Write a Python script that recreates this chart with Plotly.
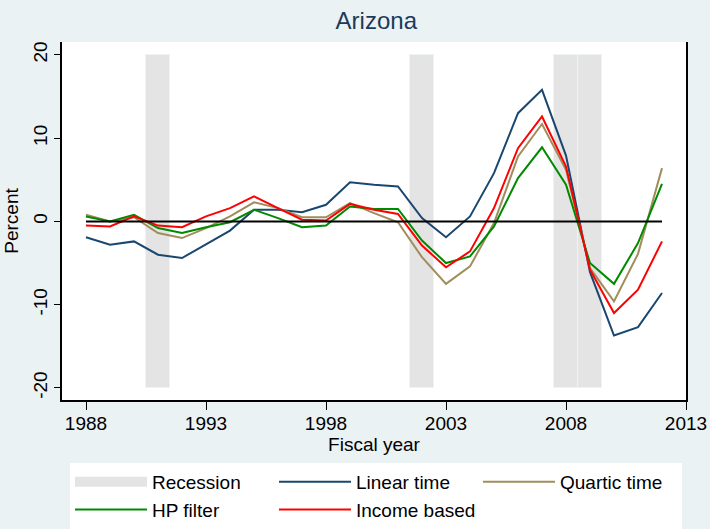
import plotly.graph_objects as go

years = list(range(1988, 2013))

linear_time = [-1.9, -2.8, -2.4, -4.0, -4.4, -2.8, -1.1, 1.4, 1.4, 1.1, 2.0, 4.7, 4.4,
               4.2, 0.4, -1.9, 0.6, 5.8, 13.0, 15.8, 7.9, -6.1, -13.7, -12.7, -8.6]
quartic_time = [0.8, 0.0, 0.5, -1.4, -2.0, -0.8, 0.6, 2.3, 1.6, 0.5, 0.5, 2.2, 1.0,
                -0.1, -4.3, -7.5, -5.4, -0.2, 7.8, 11.7, 6.2, -5.6, -9.6, -3.9, 6.4]
hp_filter = [0.6, 0.0, 0.8, -0.8, -1.4, -0.7, -0.1, 1.4, 0.4, -0.7, -0.5, 1.8, 1.5,
             1.5, -2.3, -5.0, -4.2, -0.6, 5.2, 8.9, 4.4, -5.0, -7.5, -2.6, 4.5]
income_based = [-0.5, -0.6, 0.6, -0.5, -0.7, 0.6, 1.6, 3.0, 1.6, 0.2, 0.1, 2.1, 1.4,
                0.9, -2.9, -5.5, -3.6, 1.6, 8.8, 12.6, 6.6, -5.8, -11.0, -8.2, -2.4]
zero_line = [0] * len(years)

recession_years = [1991, 2002, 2008, 2009]
recession_base = -20
recession_height = 40

x_ticks = [1988, 1993, 1998, 2003, 2008, 2013]
y_ticks = [-20, -10, 0, 10, 20]
y_tick_labels = ["-20", "-10", "0", "10", "20"]

FONT = "Liberation Sans, Arial, sans-serif"
REC_COLOR = "#e4e4e4"
BG = "#eaf2f3"

fig = go.Figure()
fig.add_trace(go.Bar(
    x=recession_years, y=[recession_height] * len(recession_years), base=recession_base,
    width=1, name="Recession", legendgroup="rec", showlegend=False,
    marker=dict(color=REC_COLOR, line=dict(color="#eef3f4", width=1)),
))
# legend key for the recession shading (wide grey swatch)
fig.add_trace(go.Scatter(x=[None], y=[None], mode="lines", name="Recession",
                         legendgroup="rec", line=dict(color=REC_COLOR, width=22)))
fig.add_trace(go.Scatter(x=years, y=linear_time, mode="lines", name="Linear time",
                         line=dict(color="#1a476f", width=2)))
fig.add_trace(go.Scatter(x=years, y=quartic_time, mode="lines", name="Quartic time",
                         line=dict(color="#a08c5c", width=2)))
fig.add_trace(go.Scatter(x=years, y=hp_filter, mode="lines", name="HP filter",
                         line=dict(color="#008a00", width=2)))
fig.add_trace(go.Scatter(x=years, y=income_based, mode="lines", name="Income based",
                         line=dict(color="#ff0000", width=2)))
fig.add_trace(go.Scatter(x=years, y=zero_line, mode="lines", showlegend=False,
                         line=dict(color="#000000", width=2), hoverinfo="skip"))

fig.update_layout(
    width=710, height=529,
    margin=dict(l=62, r=24, t=42, b=129),
    paper_bgcolor=BG, plot_bgcolor="#ffffff",
    font=dict(family=FONT, size=19, color="#000000"),
    title=dict(text="Arizona", x=0.53, xanchor="center", y=0.962, yanchor="middle",
               font=dict(size=24, color="#1a3a5c", family=FONT)),
    bargap=0,
    xaxis=dict(range=[1987, 2013], tickvals=x_ticks, ticks="outside", ticklen=8,
               tickcolor="#000", showline=True, linecolor="#000", linewidth=1.5,
               showgrid=False, zeroline=False, automargin=False,
               ticklabelstandoff=-3,
               tickfont=dict(size=19, family=FONT),
               title=dict(text="Fiscal year", standoff=0, font=dict(size=19, family=FONT))),
    yaxis=dict(range=[-21.45, 21.55], tickvals=y_ticks, ticktext=y_tick_labels,
               ticks="outside", ticklen=6,
               tickcolor="#000", tickangle=-90, showline=True, linecolor="#000",
               linewidth=1.5, mirror=True, showgrid=False, zeroline=False,
               automargin=False, tickfont=dict(size=19, family=FONT),
               title=dict(text="Percent", standoff=6, font=dict(size=19, family=FONT))),
    legend=dict(orientation="h", xref="container", yref="container",
                x=0.0986, y=0.1248, xanchor="left", yanchor="top",
                bgcolor="#ffffff", entrywidth=117, entrywidthmode="pixels",
                itemwidth=72, font=dict(size=19, family=FONT), traceorder="normal"),
)

fig.write_html(
    "out.html",
    config={"displayModeBar": False},
    post_script=f"document.body.style.margin='0';document.body.style.background='{BG}';",
)
